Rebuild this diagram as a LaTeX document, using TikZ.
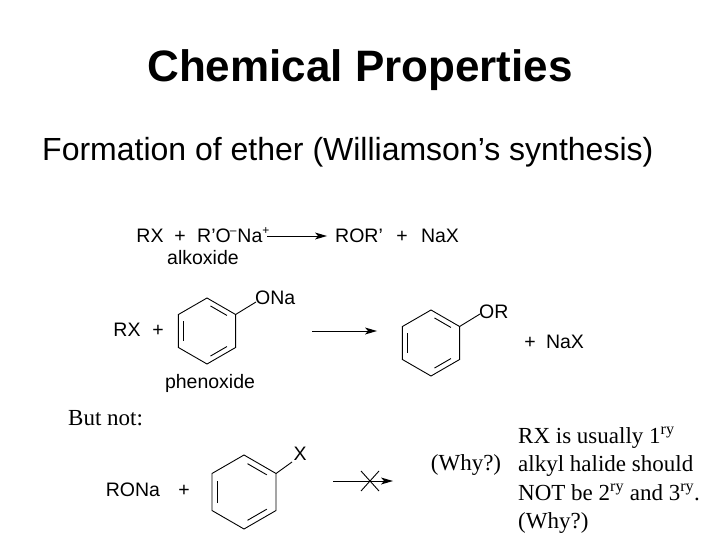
\documentclass[tikz,border=0pt]{standalone}
\usepackage{fontspec}
\setmainfont{Liberation Serif}
\setsansfont{Liberation Sans}
\usetikzlibrary{arrows.meta,calc}
\newcommand\benzring[4]{% name, cx, cy, r
 \coordinate (#1c) at (#2,#3);
 \foreach \vi in {0,...,5}{\coordinate (#1\vi) at ({#2+#4*cos(90-60*\vi)},{#3-#4*sin(90-60*\vi)});}
 \draw[bond] (#10)--(#11)--(#12)--(#13)--(#14)--(#15)--cycle;
 \foreach \pa/\pb in {0/1,2/3,4/5}{\draw[bond,shorten <=4pt,shorten >=4pt] ($(#1\pa)!0.18!(#1c)$) -- ($(#1\pb)!0.18!(#1c)$);}
}
\newcommand\rxnarrow[2]{% start, end coordinates (names)
 \draw[line width=1pt] (#1) -- ($(#2)+(-8,0)$);
 \fill ($(#2)$) -- ($(#2)+(-12,-3.5)$) -- ($(#2)+(-9,0)$) -- ($(#2)+(-12,3.5)$) -- cycle;
}
\begin{document}
\begin{tikzpicture}[x=1pt,y=-1pt,
 chem/.style={font=\sffamily\fontsize{19.5}{22}\selectfont,inner sep=0pt,text height=14pt,text depth=4pt},
 tms/.style={font=\rmfamily\fontsize{23}{26}\selectfont,inner sep=0pt},
 bond/.style={line width=0.9pt}]
\useasboundingbox (0,0) rectangle (720,540);
% arrows
\coordinate (a1s) at (267,236); \coordinate (a1e) at (327,236);
\rxnarrow{a1s}{a1e}
\coordinate (a2s) at (312,331); \coordinate (a2e) at (377,331);
\rxnarrow{a2s}{a2e}
\coordinate (a3s) at (333,481); \coordinate (a3e) at (393,481);
\rxnarrow{a3s}{a3e}
\node[font=\sffamily\bfseries\fontsize{44}{50}\selectfont] (title) at (360,70) {Chemical Properties};
\node[font=\sffamily\fontsize{32}{38}\selectfont,anchor=west,inner sep=0pt] (sub) at (42,152) {Formation of ether (Williamson’s synthesis)};
% row 1
\node[chem] (rx1) at (150,237) {RX};
\node[chem] (p1) at (180,237) {+};
\node[chem,anchor=west] (alk) at (197,237) {R'O\kern-1pt\raisebox{8pt}{\fontsize{12}{12}\selectfont –}\kern1pt Na\raisebox{8pt}{\fontsize{12}{12}\selectfont +}};
\node[chem] (alkl) at (203,259) {alkoxide};
\node[chem] (ror) at (359,237) {ROR'};
\node[chem] (p2) at (402,237) {+};
\node[chem] (nax1) at (440,237) {NaX};
% row 2
\node[chem] (rx2) at (127,331) {RX};
\node[chem] (p3) at (158,331) {+};
\benzring{A}{207}{331}{33}
\coordinate (Ab) at (256,302);
\draw[bond] (A1) -- (Ab);
\node[chem,anchor=west] (ona) at (255,299) {ONa};
\node[chem] (phen) at (210,383) {phenoxide};
\benzring{B}{431}{343}{33}
\coordinate (Bb) at (480,314);
\draw[bond] (B1) -- (Bb);
\node[chem,anchor=west] (or) at (479,313) {OR};
\node[chem] (p4) at (530,343) {+};
\node[chem] (nax2) at (565,343) {NaX};
% row 3
\node[tms,anchor=west] (but) at (68,418) {But not:};
\node[chem] (rona) at (133,491) {RONa};
\node[chem] (p5) at (184,491) {+};
\benzring{C}{244}{492}{37}
\coordinate (Cb) at (292,462);
\draw[bond] (C1) -- (Cb);
\node[chem] (xx) at (300,455) {X};
\coordinate (x1) at (361,471); \coordinate (x2) at (379,491);
\coordinate (x3) at (361,491); \coordinate (x4) at (379,471);
\draw[bond] (x1) -- (x2); \draw[bond] (x3) -- (x4);
\node[tms] (why1) at (466,465) {(Why?)};
\node[anchor=west,align=left,inner sep=0pt,font=\rmfamily\fontsize{23}{28.5}\selectfont] (note) at (518,480)
 {RX is usually 1\textsuperscript{ry}\\alkyl halide should\\NOT be 2\textsuperscript{ry} and 3\textsuperscript{ry}.\\(Why?)};
\end{tikzpicture}
\end{document}
